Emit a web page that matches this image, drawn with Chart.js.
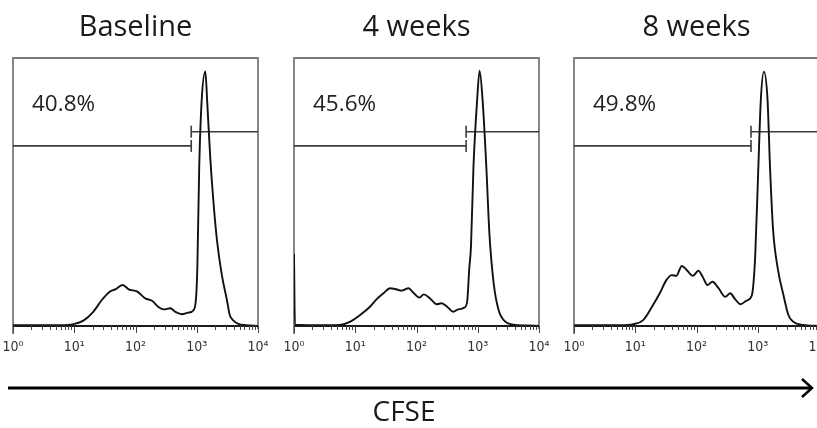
<!DOCTYPE html>
<html><head><meta charset="utf-8">
<script src="https://cdn.jsdelivr.net/npm/chart.js@4/dist/chart.umd.min.js"></script>
<style>
html,body{margin:0;padding:0;background:#fff;}
body{width:817px;height:428px;overflow:hidden;position:relative;}
canvas.panel{position:absolute;top:0;}
.title{position:absolute;top:10px;width:245px;text-align:center;font-family:'Open Sans',sans-serif;font-size:29px;line-height:29px;color:#1a1a1a;}
.pct{position:absolute;top:92px;font-family:'Open Sans',sans-serif;font-size:22.5px;line-height:22px;color:#222;}
#cfse{position:absolute;left:354px;width:100px;top:396px;text-align:center;font-family:'Open Sans',sans-serif;font-size:28px;line-height:28px;color:#1a1a1a;}
svg{position:absolute;left:0;top:0;}
</style></head>
<body>
<script>
// ---- data (x positions in log10 CFSE units, y = % of max count) ----
const panelTitles = ['Baseline', '4 weeks', '8 weeks'];
const gatePercents = ['40.8%', '45.6%', '49.8%'];
const tickExponents = [0, 1, 2, 3, 4];

const baselineLogX = [0, 0.5, 0.77, 0.99, 1.15, 1.31, 1.45, 1.58, 1.67, 1.79, 1.89, 2.03, 2.16, 2.27, 2.38, 2.46, 2.57, 2.65, 2.76, 2.86, 2.95, 2.99, 3.01, 3.04, 3.08, 3.14, 3.17, 3.22, 3.27, 3.33, 3.41, 3.49, 3.54, 3.60, 3.68, 3.80, 4.0];
const baselineCount = [0.3, 0.3, 0.3, 0.7, 2.0, 5.3, 9.7, 12.8, 13.7, 15.3, 13.7, 12.8, 10.3, 9.4, 7.0, 6.2, 6.6, 5.3, 4.4, 5.0, 6.0, 10.9, 22.1, 59, 84, 95, 84, 63, 47, 32, 19, 10, 4, 2, 0.8, 0.3, 0];

const week4LogX = [0, 0.015, 0.5, 0.75, 0.92, 1.08, 1.24, 1.35, 1.46, 1.57, 1.65, 1.76, 1.87, 1.95, 2.05, 2.12, 2.22, 2.33, 2.41, 2.50, 2.60, 2.68, 2.79, 2.83, 2.86, 2.89, 2.93, 2.99, 3.03, 3.08, 3.14, 3.19, 3.26, 3.34, 3.45, 3.58, 3.80, 4.0];
const week4Count = [27, 0.5, 0.3, 0.4, 1.6, 4.1, 7.2, 10, 12.2, 14.1, 13.8, 13.2, 14.1, 12.4, 10.6, 11.8, 10.3, 8.1, 8.5, 7.2, 5.3, 6.2, 7.0, 9.7, 20.9, 30, 59.4, 84.3, 95.3, 84, 59.4, 34.6, 15.9, 6.0, 1.6, 0.5, 0.2, 0];

const week8LogX = [0, 0.5, 0.75, 0.97, 1.13, 1.29, 1.40, 1.51, 1.60, 1.67, 1.76, 1.84, 1.94, 2.03, 2.10, 2.18, 2.26, 2.36, 2.47, 2.55, 2.63, 2.72, 2.81, 2.90, 2.93, 2.96, 3.01, 3.05, 3.10, 3.16, 3.20, 3.25, 3.33, 3.42, 3.50, 3.58, 3.74, 4.0];
const week8Count = [0.3, 0.3, 0.3, 0.7, 2.2, 7.8, 12.2, 17.2, 19.0, 18.7, 22.4, 20.9, 18.7, 20.6, 18.4, 15.3, 16.5, 14.1, 10.9, 12.2, 10.0, 8.1, 9.4, 11.2, 15.9, 27, 59.4, 84.3, 94.9, 84.3, 59.4, 36, 21, 11.5, 4.1, 1.6, 0.4, 0];

const gateLogX = [2.91, 2.81, 2.89];
const leftGateLevel = [67.2, 67.2, 67.2];
const rightGateLevel = [72.5, 72.5, 72.5];

const panelLogX = [baselineLogX, week4LogX, week8LogX];
const panelCount = [baselineCount, week4Count, week8Count];
// ---- layout ----
const panelLeft = [13, 294, 574];
const sup = ['\u2070', '\u00B9', '\u00B2', '\u00B3', '\u2074'];

const frame = {
  id: 'frame',
  beforeDatasetsDraw(chart) {
    const ca = chart.chartArea, ctx = chart.ctx;
    ctx.save();
    ctx.strokeStyle = '#7a7a7a'; ctx.lineWidth = 1.8;
    ctx.beginPath();
    ctx.moveTo(ca.left, ca.bottom + 8); ctx.lineTo(ca.left, ca.top);
    ctx.lineTo(ca.right, ca.top); ctx.lineTo(ca.right, ca.bottom + 3);
    ctx.stroke();
    ctx.restore();
  },
  afterDraw(chart) {
    const ca = chart.chartArea, ctx = chart.ctx, xs = chart.scales.x;
    ctx.save();
    ctx.strokeStyle = '#1a1a1a'; ctx.lineWidth = 2.2;
    ctx.beginPath(); ctx.moveTo(ca.left, ca.bottom); ctx.lineTo(ca.right, ca.bottom); ctx.stroke();
    ctx.strokeStyle = '#444'; ctx.lineWidth = 1;
    for (let e = 0; e <= 4; e++) {
      for (let m = 1; m <= (e === 4 ? 1 : 9); m++) {
        const px = Math.round(xs.getPixelForValue(m * Math.pow(10, e))) + 0.5;
        ctx.beginPath(); ctx.moveTo(px, ca.bottom); ctx.lineTo(px, ca.bottom + (m === 1 ? 7 : 4)); ctx.stroke();
      }
    }
    ctx.restore();
  }
};

panelLeft.forEach((left, i) => {
  const cv = document.createElement('canvas');
  cv.className = 'panel'; cv.width = 265; cv.height = 360;
  cv.style.left = (left - 10) + 'px';
  document.body.appendChild(cv);
  const t = document.createElement('div'); t.className = 'title';
  t.style.left = left + 'px'; t.textContent = panelTitles[i]; document.body.appendChild(t);
  const p = document.createElement('div'); p.className = 'pct';
  p.style.left = (left + 19) + 'px'; p.textContent = gatePercents[i]; document.body.appendChild(p);

  const curve = panelLogX[i].map((v, k) => ({x: Math.pow(10, v), y: panelCount[i][k]}));
  const gx = Math.pow(10, gateLogX[i]);
  const gateStyle = {borderColor: '#3c3c3c', borderWidth: 1.6, pointStyle: 'line', rotation: 90,
    pointBorderColor: '#3c3c3c', pointBorderWidth: 1.6, fill: false, tension: 0};
  new Chart(cv, {
    type: 'line',
    data: {datasets: [
      {data: curve, borderColor: '#111', borderWidth: 1.9, pointRadius: 0, cubicInterpolationMode: 'monotone', fill: false},
      Object.assign({data: [{x: 1, y: leftGateLevel[i]}, {x: gx, y: leftGateLevel[i]}], pointRadius: [0, 6]}, gateStyle),
      Object.assign({data: [{x: gx, y: rightGateLevel[i]}, {x: 10000, y: rightGateLevel[i]}], pointRadius: [6, 0]}, gateStyle)
    ]},
    options: {
      responsive: false, animation: false, events: [],
      layout: {padding: {left: 10, right: 10, top: 58, bottom: 0}},
      plugins: {legend: {display: false}, tooltip: {enabled: false}},
      scales: {
        x: {type: 'logarithmic', min: 1, max: 10000,
          grid: {display: false}, border: {display: false},
          afterBuildTicks: (s) => { s.ticks = tickExponents.map(e => ({value: Math.pow(10, e)})); },
          afterFit: (s) => { s.height = 34; s.paddingLeft = 0; s.paddingRight = 0; },
          ticks: {autoSkip: false, maxRotation: 0, padding: 5, color: '#333',
            font: {family: "'DejaVu Sans Condensed', 'DejaVu Sans', sans-serif", size: 14},
            callback: (v) => { const e = Math.round(Math.log10(v)); return '10' + sup[e]; }}
        },
        y: {display: false, min: 0, max: 100}
      }
    },
    plugins: [frame]
  });
});
</script>
<svg width="817" height="428"><line x1="8" y1="388" x2="811" y2="388" stroke="#000" stroke-width="3"/><polyline points="802,379 812,388 802,397" fill="none" stroke="#000" stroke-width="2.5"/></svg>
<div id="cfse">CFSE</div>
</body></html>
